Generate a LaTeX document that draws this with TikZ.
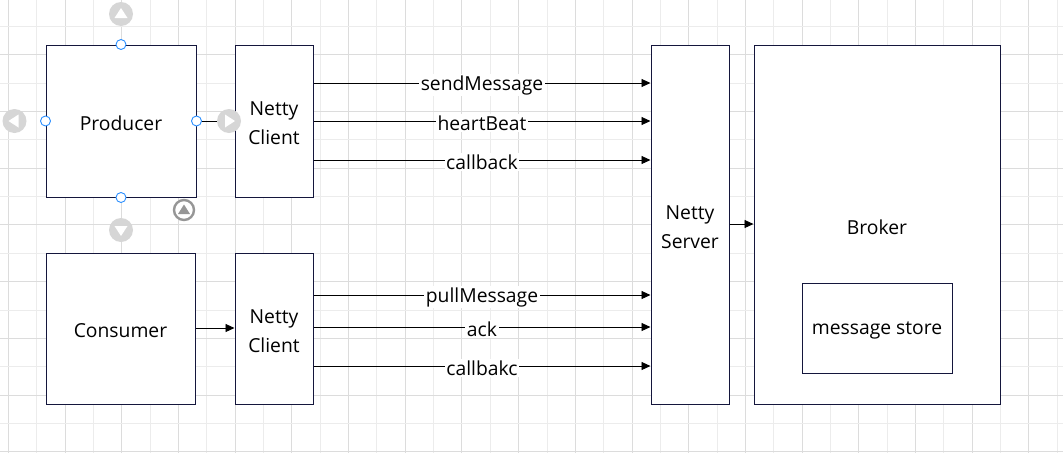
\documentclass[tikz,border=0pt]{standalone}
\usepackage{fontspec}
\setmainfont{Open Sans}
\usetikzlibrary{arrows.meta,calc}
\definecolor{boxline}{RGB}{20,22,60}
\definecolor{gridlight}{RGB}{236,236,236}
\definecolor{griddark}{RGB}{220,220,220}
\definecolor{handleblue}{RGB}{41,142,255}
\definecolor{hovergray}{RGB}{214,214,214}
\definecolor{ringgray}{RGB}{150,150,150}
\tikzset{
  blk/.style={draw=boxline, line width=1pt, fill=white, inner sep=0pt},
  txt/.style={font=\fontsize{19.3}{29}\selectfont, align=center, inner sep=0pt, yshift=-2.5pt},
  conn/.style={draw=black, line width=0.9pt, -{Triangle[length=9pt,width=8pt]}},
  lbl/.style={fill=white, inner sep=1.5pt, font=\fontsize{19.3}{22}\selectfont, yshift=-2pt},
  bluehandle/.style={draw=handleblue, fill=white, line width=0.9pt, circle, minimum size=10pt, inner sep=0pt},
  hoverbtn/.style={fill=hovergray, circle, minimum size=24pt, inner sep=0pt},
}
\begin{document}
\begin{tikzpicture}[x=1pt,y=-1pt]
\useasboundingbox (0,0) rectangle (1063,453);
\fill[white] (0,0) rectangle (1063,453);
% grid
\foreach \i in {0,...,37} {
  \pgfmathsetmacro{\xx}{8.3+\i*28.35}
  \pgfmathtruncatemacro{\odd}{mod(\i,2)}
  \ifnum\odd=0 \draw[griddark, line width=0.9pt] (\xx,0) -- (\xx,453);
  \else \draw[gridlight, line width=0.9pt] (\xx,0) -- (\xx,453); \fi
}
\foreach \j in {0,...,15} {
  \pgfmathsetmacro{\yy}{451.7-\j*28.35}
  \pgfmathtruncatemacro{\odd}{mod(\j,2)}
  \ifnum\odd=0 \draw[griddark, line width=0.9pt] (0,\yy) -- (1063,\yy);
  \else \draw[gridlight, line width=0.9pt] (0,\yy) -- (1063,\yy); \fi
}
% boxes
\node[blk, minimum width=150pt, minimum height=152pt, label={[txt]center:Producer}] (prod) at (121,121) {};
\node[blk, minimum width=78pt, minimum height=152pt, label={[txt]center:Netty\\Client}] (nc1) at (274,121) {};
\node[blk, minimum width=149pt, minimum height=151pt, label={[txt]center:Consumer}] (cons) at (120.5,328.5) {};
\node[blk, minimum width=78pt, minimum height=151pt, label={[txt]center:Netty\\Client}] (nc2) at (274,328.5) {};
\node[blk, minimum width=78pt, minimum height=359pt, label={[txt]center:Netty\\Server}] (srv) at (690,224.5) {};
\node[blk, minimum width=246pt, minimum height=359pt, label={[txt]center:Broker}] (brk) at (877,224.5) {};
\node[blk, minimum width=150pt, minimum height=90pt, label={[txt]center:message store}] (ms) at (877,328) {};
% connectors
\foreach \yy/\t in {83/sendMessage,121/heartBeat,160/callback} {
  \draw[conn] (nc1.east |- 0,\yy) -- node[lbl] {\t} (srv.west |- 0,\yy);
}
\foreach \yy/\t in {295/pullMessage,327/ack,366/callbakc} {
  \draw[conn] (nc2.east |- 0,\yy) -- node[lbl] {\t} (srv.west |- 0,\yy);
}
\draw[conn] (srv.east |- 0,224) -- (brk.west |- 0,224);
\draw[conn] (cons.east |- 0,328) -- (nc2.west |- 0,328);
% hover handles
\coordinate (hr) at (229,121);
\draw[black, line width=0.9pt] (prod.east) -- (hr);
\node[hoverbtn] (ht) at (121,14) {};
\node[hoverbtn] (hl) at (14.5,121) {};
\node[hoverbtn] (hrb) at (hr) {};
\node[hoverbtn] (hb) at (121,230) {};
\fill[white] ($(ht)+(0,-6)$) -- ++(6.5,10) -- ++(-13,0) -- cycle;
\fill[white] ($(hl)+(-6,0)$) -- ++(10,-6.5) -- ++(0,13) -- cycle;
\fill[white] ($(hrb)+(6,0)$) -- ++(-10,-6.5) -- ++(0,13) -- cycle;
\fill[white] ($(hb)+(0,6)$) -- ++(6.5,-10) -- ++(-13,0) -- cycle;
\node[draw=ringgray, fill=white, line width=2.4pt, circle, minimum size=20pt, inner sep=0pt] (ring) at (184,210) {};
\fill[ringgray] ($(ring)+(0,-5.5)$) -- ++(6,9.5) -- ++(-12,0) -- cycle;
\node[bluehandle] (bt) at (prod.north) {};
\node[bluehandle] (bl) at (prod.west) {};
\node[bluehandle] (br) at (prod.east) {};
\node[bluehandle] (bb) at (prod.south) {};
\end{tikzpicture}
\end{document}
